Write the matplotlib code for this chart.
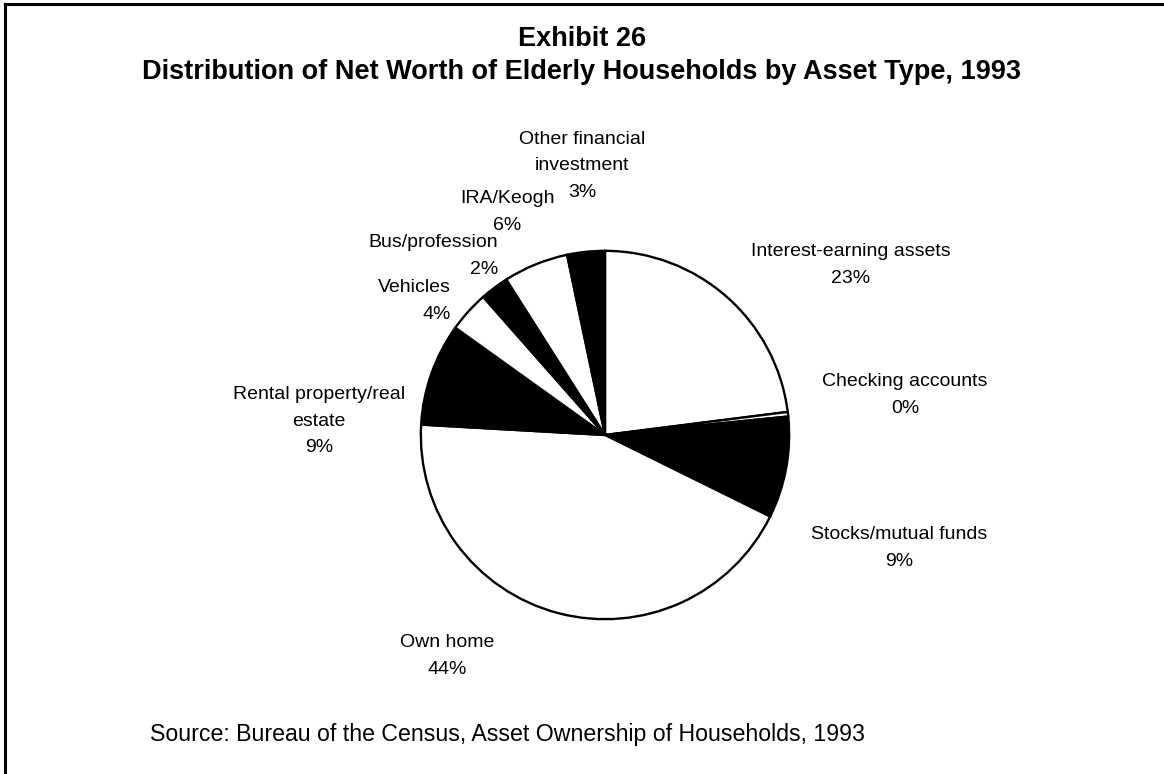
import matplotlib
matplotlib.use("Agg")
import matplotlib.pyplot as plt
from matplotlib.lines import Line2D

plt.rcParams["font.family"] = ["Liberation Sans", "DejaVu Sans"]

# slice sizes (percent), clockwise from 12 o'clock
categories = [
    "Interest-earning assets",
    "Checking accounts",
    "Stocks/mutual funds",
    "Own home",
    "Rental property/real estate",
    "Vehicles",
    "Bus/profession",
    "IRA/Keogh",
    "Other financial investment",
]
values = [23.0, 0.4, 8.9, 43.6, 9.0, 3.6, 2.5, 5.7, 3.3]
pct_labels = ["23%", "0%", "9%", "44%", "9%", "4%", "2%", "6%", "3%"]
fills = ["white", "white", "black", "white", "black", "white", "black", "white", "black"]

W, H = 1164, 774
fig = plt.figure(figsize=(W / 100, H / 100), dpi=100)


def px(x, y):
    return x / W, 1 - y / H


# pie centre (605, 435), radius 186 px
cx, cy, r = 605, 435, 186
ax = fig.add_axes([(cx - r) / W, (H - cy - r) / H, 2 * r / W, 2 * r / H])
ax.pie(
    values,
    colors=fills,
    startangle=90,
    counterclock=False,
    wedgeprops=dict(edgecolor="black", linewidth=1.7),
    radius=1.0,
)
ax.set_xlim(-1.01, 1.01)
ax.set_ylim(-1.01, 1.01)
ax.set_aspect("equal")
ax.axis("off")

# label text: name lines + percentage
label_text = [
    "Interest-earning assets",
    "Checking accounts",
    "Stocks/mutual funds",
    "Own home",
    "Rental property/real\nestate",
    "Vehicles",
    "Bus/profession",
    "IRA/Keogh",
    "Other financial\ninvestment",
]
# (x, y, ha) in pixels for each label block
label_pos = [
    (851, 265, "center"),
    (905, 395, "center"),
    (899, 548, "center"),
    (447, 656, "center"),
    (319, 421, "center"),
    (451, 301, "right"),
    (498, 256, "right"),
    (507, 212, "center"),
    (582, 166, "center"),
]
for name, pct, (x, y, ha) in zip(label_text, pct_labels, label_pos):
    fx, fy = px(x, y)
    fig.text(fx, fy, f"{name}\n{pct}", ha=ha, va="center", multialignment=ha,
             fontsize=14, linespacing=1.7)

fx, fy = px(582, 39)
fig.text(fx, fy, "Exhibit 26", ha="center", va="center", fontsize=19.5, fontweight="bold")
fx, fy = px(582, 72)
fig.text(fx, fy, "Distribution of Net Worth of Elderly Households by Asset Type, 1993",
         ha="center", va="center", fontsize=19.5, fontweight="bold")

fx, fy = px(150, 735)
fig.text(fx, fy, "Source: Bureau of the Census, Asset Ownership of Households, 1993",
         ha="left", va="center", fontsize=16.7)

# frame: left and top edges only
fig.add_artist(Line2D([5 / W, 5 / W], [0, 1 - 4 / H], transform=fig.transFigure, color="black", lw=2.2))
fig.add_artist(Line2D([5 / W, 1], [1 - 4 / H, 1 - 4 / H], transform=fig.transFigure, color="black", lw=2.2))

fig.savefig("out.png", dpi=100, facecolor="white")
